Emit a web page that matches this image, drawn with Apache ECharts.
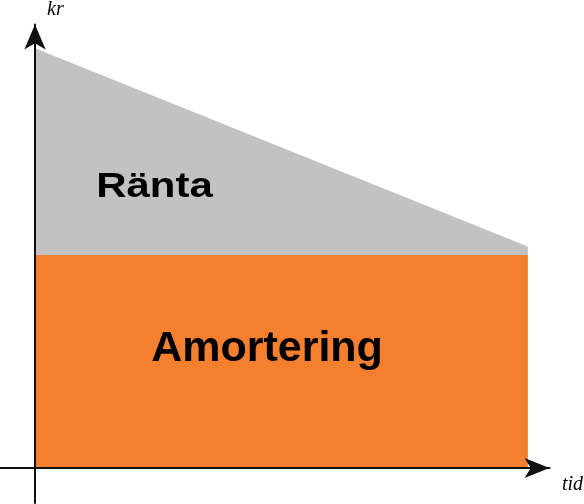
<!DOCTYPE html>
<html>
<head>
<meta charset="utf-8">
<script src="https://cdn.jsdelivr.net/npm/echarts@6/dist/echarts.min.js"></script>
<style>
  html, body { margin: 0; padding: 0; background: #fff; }
  #chart { width: 584px; height: 504px; }
</style>
</head>
<body>
<div id="chart"></div>
<script>
// tid (x) och belopp (kr) för lånet
const tid = [0, 10];
const amortering = [100, 100];
const ranta = [97, 4];
const seriesNames = ['Amortering', 'Ränta'];
const axisNames = ['tid', 'kr'];

const myChart = echarts.init(document.getElementById('chart'));

// ränta ligger ovanpå amorteringen
const totalt = amortering.map((a, i) => a + ranta[i]);
const pairs = arr => tid.map((t, i) => [t, arr[i]]);

const option = {
    animation: false,
    grid: {
        left: 0,
        right: 34.5,
        top: 24.5,
        bottom: 1,
        containLabel: false
    },
    xAxis: {
        type: 'value',
        min: -0.71,
        max: 10.44,
        z: 10,
        axisLine: {
            onZero: true,
            symbol: ['none', 'arrow'],
            symbolSize: [15, 25],
            lineStyle: { color: '#111', width: 2 }
        },
        axisTick: { show: false },
        axisLabel: { show: false },
        splitLine: { show: false }
    },
    yAxis: {
        type: 'value',
        min: -16.4,
        max: 208.2,
        z: 10,
        axisLine: {
            onZero: true,
            symbol: ['none', 'arrow'],
            symbolSize: [16, 25],
            lineStyle: { color: '#111', width: 2 }
        },
        axisTick: { show: false },
        axisLabel: { show: false },
        splitLine: { show: false }
    },
    series: [
        {
            name: seriesNames[1],
            type: 'line',
            symbol: 'none',
            data: pairs(totalt),
            lineStyle: { width: 0 },
            areaStyle: { color: '#C2C2C2', opacity: 1, origin: 0 },
            z: 1
        },
        {
            name: seriesNames[0],
            type: 'line',
            symbol: 'none',
            data: pairs(amortering),
            lineStyle: { width: 0 },
            areaStyle: { color: '#F47F2E', opacity: 1, origin: 0 },
            z: 2
        }
    ],
    graphic: [
        {
            type: 'text',
            x: 154.5,
            y: 187,
            scaleX: 1.2,
            z: 10,
            style: {
                text: seriesNames[1],
                font: 'bold 35px "Liberation Sans", Arial, sans-serif',
                fill: '#000',
                align: 'center',
                verticalAlign: 'middle'
            }
        },
        {
            type: 'text',
            x: 267,
            y: 349,
            z: 10,
            style: {
                text: seriesNames[0],
                font: 'bold 43px "Liberation Sans", Arial, sans-serif',
                fill: '#000',
                align: 'center',
                verticalAlign: 'middle'
            }
        },
        {
            type: 'text',
            x: 47,
            y: 20,
            z: 10,
            style: {
                text: axisNames[1],
                font: 'italic 20px "Liberation Serif", "Times New Roman", serif',
                fill: '#000',
                align: 'left',
                verticalAlign: 'bottom'
            }
        },
        {
            type: 'text',
            x: 562,
            y: 495,
            z: 10,
            style: {
                text: axisNames[0],
                font: 'italic 20px "Liberation Serif", "Times New Roman", serif',
                fill: '#000',
                align: 'left',
                verticalAlign: 'bottom'
            }
        }
    ]
};

myChart.setOption(option, true);
</script>
</body>
</html>
